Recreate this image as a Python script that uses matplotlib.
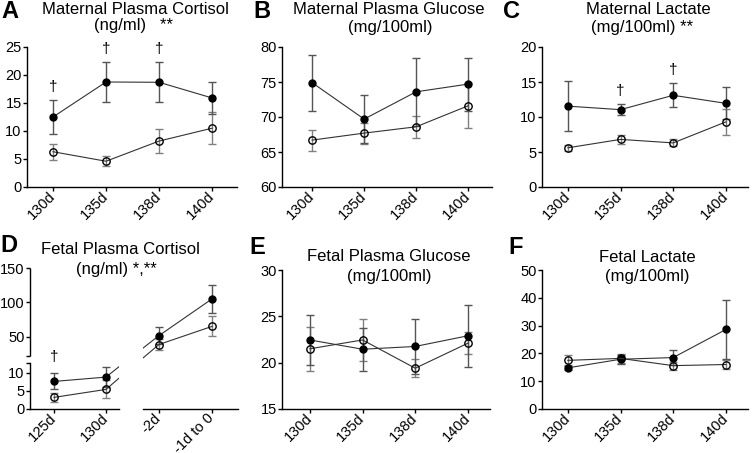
import numpy as np
import matplotlib
matplotlib.use("Agg")
import matplotlib.pyplot as plt

plt.rcParams["font.family"] = ["Liberation Sans", "DejaVu Sans"]

# ---- data (filled = one group, open = other group), mean and SEM ----
days = ["130d", "135d", "138d", "140d"]
fetal_cort_days = ["125d", "130d", "-2d", "-1d to 0"]

mat_cort_filled = [12.5, 18.75, 18.7, 15.9]
mat_cort_filled_err = [3.0, 3.6, 3.6, 2.9]
mat_cort_open = [6.3, 4.6, 8.2, 10.5]
mat_cort_open_err = [1.4, 0.9, 2.1, 2.9]
mat_cort_dagger = [0, 1, 2]

mat_glu_filled = [74.9, 69.7, 73.6, 74.7]
mat_glu_filled_err = [4.0, 3.4, 4.9, 3.8]
mat_glu_open = [66.7, 67.7, 68.6, 71.6]
mat_glu_open_err = [1.5, 1.5, 1.6, 3.2]

mat_lac_filled = [11.55, 11.05, 13.1, 11.95]
mat_lac_filled_err = [3.6, 0.8, 1.7, 2.3]
mat_lac_open = [5.6, 6.8, 6.3, 9.3]
mat_lac_open_err = [0.4, 0.7, 0.5, 1.9]
mat_lac_dagger = [1, 2]

fet_cort_filled = [7.6, 8.8, 51.5, 105.0]
fet_cort_filled_err = [2.2, 2.85, 12.0, 19.8]
fet_cort_open = [3.2, 5.4, 38.6, 65.0]
fet_cort_open_err = [1.2, 2.5, 8.5, 14.7]
fet_cort_dagger = [0]

fet_glu_filled = [22.45, 21.45, 21.75, 22.9]
fet_glu_filled_err = [2.7, 2.3, 2.95, 3.35]
fet_glu_open = [21.5, 22.45, 19.4, 22.1]
fet_glu_open_err = [2.4, 2.3, 1.0, 1.2]

fet_lac_filled = [14.8, 17.9, 18.5, 28.6]
fet_lac_filled_err = [0.8, 1.7, 2.6, 10.6]
fet_lac_open = [17.5, 18.2, 15.6, 16.0]
fet_lac_open_err = [1.8, 1.5, 1.4, 1.6]

W, H = 753, 453
fig = plt.figure(figsize=(W / 100, H / 100), dpi=100)


def box(l, t, r, b):
    return [l / W, 1 - b / H, (r - l) / W, (b - t) / H]


def style(ax):
    for s in ["top", "right"]:
        ax.spines[s].set_visible(False)
    for s in ["left", "bottom"]:
        ax.spines[s].set_linewidth(1.0)
    ax.tick_params(length=3, width=1.0, labelsize=10.5)
    ax.tick_params(axis="y", pad=0.8)
    ax.tick_params(axis="x", pad=2)
    ax.set_facecolor("none")


def draw(ax, x, filled, filled_err, open_, open_err):
    ax.errorbar(x, open_, yerr=open_err, fmt="none", ecolor="#808080",
                elinewidth=1.0, capsize=3, capthick=1.0, zorder=2)
    ax.errorbar(x, filled, yerr=filled_err, fmt="none", ecolor="#555555",
                elinewidth=1.0, capsize=3, capthick=1.0, zorder=2)
    ax.plot(x, filled, "-", color="#333333", lw=0.8, marker="o", ms=5,
            mfc="black", mec="black", zorder=3)
    ax.plot(x, open_, "-", color="#333333", lw=0.8, marker="o", ms=5.3,
            mfc="none", mec="black", mew=1.0, zorder=3)


def daggers(ax, idx, filled, filled_err, off):
    for i in idx:
        ax.annotate("\u2020", xy=(i, filled[i] + filled_err[i]), xytext=(0, off),
                    textcoords="offset points", ha="center", va="center",
                    fontsize=11)


def xlabels(ax, x, labels):
    ax.set_xticks(x)
    ax.set_xticklabels(labels, rotation=45, ha="right", va="center",
                       rotation_mode="anchor")


x4 = np.arange(4)

# ---- A ----
axA = fig.add_axes(box(27, 47, 237, 187))
draw(axA, x4, mat_cort_filled, mat_cort_filled_err, mat_cort_open, mat_cort_open_err)
daggers(axA, mat_cort_dagger, mat_cort_filled, mat_cort_filled_err, 9.5)
axA.set_xlim(-0.49, 3.47)
axA.set_ylim(0, 25)
axA.set_yticks([0, 5, 10, 15, 20, 25])
xlabels(axA, x4, days)
style(axA)

# ---- B ----
axB = fig.add_axes(box(282, 47, 492, 187))
draw(axB, x4, mat_glu_filled, mat_glu_filled_err, mat_glu_open, mat_glu_open_err)
axB.set_xlim(-0.58, 3.46)
axB.set_ylim(60, 80)
axB.set_yticks([60, 65, 70, 75, 80])
xlabels(axB, x4, days)
style(axB)

# ---- C ----
axC = fig.add_axes(box(542, 47, 748, 187))
draw(axC, x4, mat_lac_filled, mat_lac_filled_err, mat_lac_open, mat_lac_open_err)
daggers(axC, mat_lac_dagger, mat_lac_filled, mat_lac_filled_err, 9.5)
axC.set_xlim(-0.49, 3.42)
axC.set_ylim(0, 20)
axC.set_yticks([0, 5, 10, 15, 20])
xlabels(axC, x4, days)
style(axC)

# ---- D (broken axes) ----
lo_top, hi_bot = 12.6, 22.0
px_lo, px_hi = 45.7, 53.1
a = px_lo / lo_top
g = (px_hi - px_lo) / (hi_bot - lo_top)
b = 0.687


def fwd(y):
    y = np.asarray(y, dtype=float)
    return np.where(y <= lo_top, y * a,
                    np.where(y <= hi_bot, px_lo + (y - lo_top) * g,
                             px_hi + (y - hi_bot) * b))


def inv(p):
    p = np.asarray(p, dtype=float)
    return np.where(p <= px_lo, p / a,
                    np.where(p <= px_hi, lo_top + (p - px_lo) / g,
                             hi_bot + (p - px_hi) / b))


axDl = fig.add_axes(box(30, 268, 119, 409))
axDr = fig.add_axes(box(143, 268, 238, 409))
for ax in (axDl, axDr):
    ax.set_yscale("function", functions=(fwd, inv))
    draw(ax, x4, fet_cort_filled, fet_cort_filled_err, fet_cort_open, fet_cort_open_err)
    ax.set_ylim(0, 150)
    xlabels(ax, x4, fetal_cort_days)
    style(ax)
daggers(axDl, fet_cort_dagger, fet_cort_filled, fet_cort_filled_err, 12)
axDl.set_xlim(-0.46, 1.25)
axDr.set_xlim(1.70, 3.49)
axDl.set_yticks([0, 5, 10, 50, 100, 150])
axDl.set_yticks([lo_top, hi_bot], minor=True)
axDl.tick_params(axis="y", which="minor", length=3, width=1.0)
axDl.spines["left"].set_bounds(0, lo_top)
axDl.plot([0, 0], [hi_bot, 150], color="black", lw=1.0, clip_on=False,
          transform=axDl.get_yaxis_transform(), solid_capstyle="butt")
axDr.spines["left"].set_visible(False)
axDr.tick_params(axis="y", left=False, labelleft=False)

# ---- E ----
axE = fig.add_axes(box(282, 270, 490, 409))
draw(axE, x4, fet_glu_filled, fet_glu_filled_err, fet_glu_open, fet_glu_open_err)
axE.set_xlim(-0.53, 3.42)
axE.set_ylim(15, 30)
axE.set_yticks([15, 20, 25, 30])
xlabels(axE, x4, days)
style(axE)

# ---- F ----
axF = fig.add_axes(box(542, 270, 748, 409))
draw(axF, x4, fet_lac_filled, fet_lac_filled_err, fet_lac_open, fet_lac_open_err)
axF.set_xlim(-0.49, 3.42)
axF.set_ylim(0, 50)
axF.set_yticks([0, 10, 20, 30, 40, 50])
xlabels(axF, x4, days)
style(axF)

# ---- titles and panel letters ----
titles = [
    ("Maternal Plasma Cortisol", 135, 9.5), ("(ng/ml)   **", 133, 25.5),
    ("Maternal Plasma Glucose", 389, 9.5), ("(mg/100ml)", 390, 27.5),
    ("Maternal Lactate", 648, 10), ("(mg/100ml) **", 642, 27.5),
    ("Fetal Plasma Cortisol", 120, 249.5), ("(ng/ml) *,**", 116, 269.5),
    ("Fetal Plasma Glucose", 389, 256.5), ("(mg/100ml)", 389, 277),
    ("Fetal Lactate", 647, 257), ("(mg/100ml)", 647, 277),
]
for txt, xp, yp in titles:
    fig.text(xp / W, 1 - yp / H, txt, ha="center", va="center", fontsize=12)

letters = [("A", 10, 11), ("B", 262, 11), ("C", 512, 11),
           ("D", 9, 246), ("E", 257, 248), ("F", 516, 248)]
for txt, xp, yp in letters:
    fig.text(xp / W, 1 - yp / H, txt, ha="center", va="center",
             fontsize=17, fontweight="bold")

fig.savefig("out.png", dpi=100)
